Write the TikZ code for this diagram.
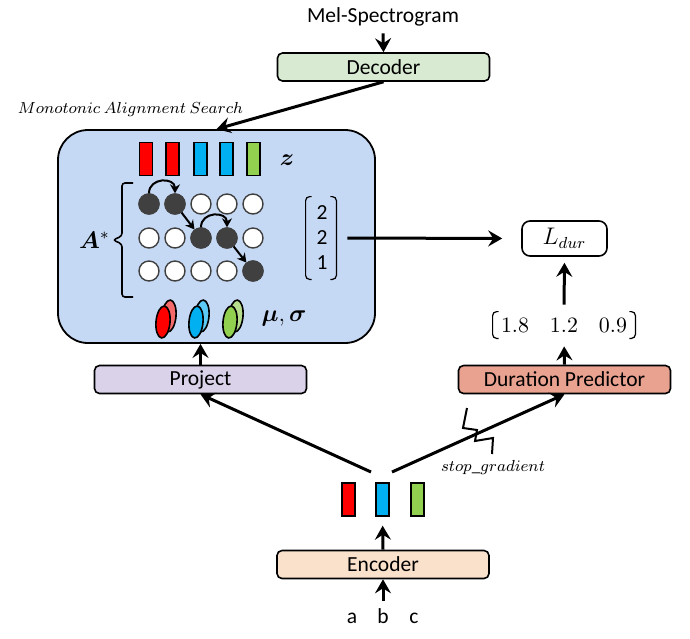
\documentclass[tikz,border=0pt]{standalone}
\usepackage{amsmath}
\usepackage{bm}
\usepackage{fontspec}
\setmainfont{Carlito}
\usepackage{tikz}
\usetikzlibrary{arrows.meta, shapes.geometric}
\definecolor{decgreen}{HTML}{D9EAD3}
\definecolor{masblue}{HTML}{C6D9F4}
\definecolor{projpurple}{HTML}{D9D2E9}
\definecolor{dpsalmon}{HTML}{E9A190}
\definecolor{encpeach}{HTML}{FAE1CB}
\definecolor{barred}{HTML}{FF0000}
\definecolor{barblue}{HTML}{00B0F0}
\definecolor{bargreen}{HTML}{92D050}
\definecolor{lred}{HTML}{F46A6A}
\definecolor{lblue}{HTML}{5CCAF4}
\definecolor{lgreen}{HTML}{B6DE8C}
\definecolor{cellgray}{HTML}{404040}
\tikzstyle{block}=[draw, line width=0.8pt, rounded corners=2.5pt, minimum width=106pt, minimum height=14pt, inner sep=0pt]
\tikzstyle{arr}=[line width=1.5pt, -{Stealth[length=7pt,width=8pt,inset=2.5pt]}]
\tikzstyle{hop}=[line width=1pt, -{Stealth[length=4.5pt,width=5pt,inset=1.5pt]}]
\tikzstyle{bar}=[draw, line width=0.7pt, minimum width=6.5pt, minimum height=16.5pt, inner sep=0pt]
\tikzstyle{cell}=[circle, draw=cellgray, line width=0.7pt, minimum size=10pt, inner sep=0pt, fill=white]
\tikzstyle{gauss}=[ellipse, draw, line width=0.8pt, minimum width=7pt, minimum height=16pt, inner sep=0pt, rotate=-5]
\tikzstyle{brk}=[line width=0.6pt, rounded corners=2pt]

\begin{document}
\begin{tikzpicture}[x=0.5pt, y=-0.5pt, font=\fontsize{10.75}{13}\selectfont]
    \useasboundingbox (0,0) rectangle (690,638);
    % decoder
    \node (mel) at (383,17) {Mel-Spectrogram};
    \node[block, fill=decgreen] (dec) at (383.5,67) {Decoder};
    \draw[arr] (mel.south) -- (dec.north);
    % alignment search
    \node[draw, line width=0.9pt, fill=masblue, rounded corners=15pt, minimum width=158.5pt, minimum height=106.5pt] (mas) at (216.5,236.5) {};
    \node (masl) at (130.5,109) {\fontsize{8}{10}\selectfont $Monotonic\ Alignment\ Search$};
    \draw[arr] (dec.south) -- (mas.north);
    \foreach \x/\c [count=\i] in {146/barred,172.5/barred,200.5/barblue,226.5/barblue,253.5/bargreen}
        \node[bar, fill=\c] (z\i) at (\x,159) {};
    \node (zl) at (287,160) {\fontsize{11.5}{13}\selectfont $\bm{z}$};
    \foreach \r/\y in {1/204,2/238,3/271}
        \foreach \c/\x in {1/149,2/175,3/201,4/227,5/253}
            \node[cell] (c\r\c) at (\x,\y) {};
    \foreach \r/\c in {1/1,1/2,2/3,2/4,3/5}
        \node[cell, fill=cellgray] (d\r\c) at (c\r\c) {};
    \draw[hop] (c11.north) to[out=90, in=90, looseness=1.6] (c12.north);
    \draw[hop] (c12) -- (c23);
    \draw[hop] (c23.north) to[out=90, in=90, looseness=1.6] (c24.north);
    \draw[hop] (c24) -- (c35);
    \draw[line width=0.8pt, rounded corners=1.5pt] (133,183) -- (122,183) -- (122,236) -- (113,240) -- (122,244) -- (122,297) -- (133,297);
    \node[inner sep=1pt, anchor=east] (al) at (112,240) {\fontsize{11.5}{13}\selectfont $\bm{A}^{*}$};
    \foreach \x/\c/\l [count=\i] in {163/barred/lred,196/barblue/lblue,230/bargreen/lgreen} {
        \node[gauss, fill=\l] (sb\i) at (\x+6,316) {};
        \node[gauss, fill=\c] (sf\i) at (\x,322) {};
    }
    \node (ms) at (284,318) {\fontsize{11.5}{13}\selectfont $\bm{\mu},\bm{\sigma}$};
    % durations from the alignment
    \node[minimum width=15pt, minimum height=41pt, inner sep=0pt] (dv) at (321,238) {};
    \foreach \y/\t [count=\i] in {213/2,238/2,263/1}
        \node (dv\i) at (322,\y) {\t};
    \draw[brk] ([xshift=3pt]dv.north west) -- (dv.north west) -- (dv.south west) -- ([xshift=3pt]dv.south west);
    \draw[brk] ([xshift=-3pt]dv.north east) -- (dv.north east) -- (dv.south east) -- ([xshift=-3pt]dv.south east);
    \node[draw, line width=0.8pt, fill=white, rounded corners=4pt, minimum width=42.5pt, minimum height=17.5pt] (ldur) at (564.5,238.5) {\fontsize{11.5}{13}\selectfont $L_{dur}$};
    \draw[arr, shorten <=5.5pt, shorten >=9.5pt] (dv.east) -- (ldur.west);
    % predicted durations
    \node[minimum width=71pt, minimum height=13pt, inner sep=0pt] (pv) at (564,325) {\fontsize{10.5}{12}\selectfont $1.8\quad 1.2\quad 0.9$};
    \draw[brk] ([xshift=3pt]pv.north west) -- (pv.north west) -- (pv.south west) -- ([xshift=3pt]pv.south west);
    \draw[brk] ([xshift=-3pt]pv.north east) -- (pv.north east) -- (pv.south east) -- ([xshift=-3pt]pv.south east);
    \draw[arr, shorten <=3.5pt, shorten >=3pt] (pv.north) -- (ldur.south);
    \node[block, fill=projpurple] (proj) at (200.5,379.5) {Project};
    \node[block, fill=dpsalmon] (dp) at (564.5,379.5) {Duration Predictor};
    \draw[arr] (proj.north) -- (proj.north |- mas.south);
    \draw[arr, shorten >=4pt] (dp.north) -- (pv.south);
    % encoder
    \node[block, fill=encpeach] (enc) at (383,564.5) {Encoder};
    \foreach \x/\c [count=\i] in {348.5/barred,382.5/barblue,417.5/bargreen}
        \node[bar, fill=\c] (h\i) at (\x,499.5) {};
    \draw[arr, shorten >=4.5pt] (enc.north) -- (h2.south);
    \foreach \x/\t in {352/a,383/b,414/c}
        \node[anchor=base] (in\t) at (\x,623) {\t};
    \draw[arr] (inb.north) -- (enc.south);
    \coordinate (fl) at (371,472);
    \coordinate (fr) at (392,472);
    \draw[arr] (fl) -- (proj.south);
    \draw[arr] (fr) -- (dp.south);
    \draw[line width=1pt] (467,408) -- (463,428) -- (477,430) -- (475,441) -- (493,438) -- (492,454);
    \node (sg) at (493,467) {\fontsize{8.5}{10}\selectfont $stop\_gradient$};
\end{tikzpicture}
\end{document}
